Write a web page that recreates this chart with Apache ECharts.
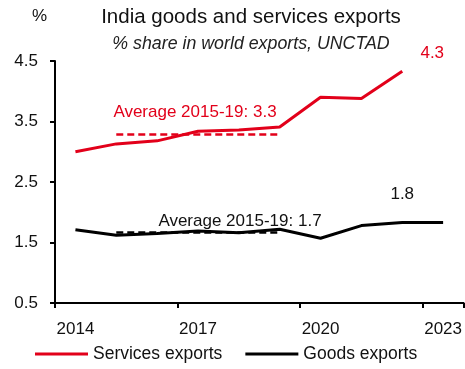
<!DOCTYPE html>
<html>
<head>
<meta charset="utf-8">
<script src="https://cdn.jsdelivr.net/npm/echarts@6/dist/echarts.min.js"></script>
<style>
  html, body { margin: 0; padding: 0; background: #fff; }
  #chart { width: 465px; height: 369px; }
</style>
</head>
<body>
<div id="chart"></div>
<script>
// India's share of world exports (%), UNCTAD
const years = ['2014', '2015', '2016', '2017', '2018', '2019', '2020', '2021', '2022', '2023'];
const servicesExports = [3.0, 3.13, 3.18, 3.34, 3.36, 3.41, 3.9, 3.88, 4.33, null];
const goodsExports = [1.71, 1.62, 1.65, 1.69, 1.66, 1.72, 1.57, 1.78, 1.83, 1.83];
const yTicks = [0.5, 1.5, 2.5, 3.5, 4.5];
const avgFrom = '2015';
const avgTo = '2019';
const labelYear = '2022';

const RED = '#E2001A';
const BLACK = '#000000';
const TEXT = '#111111';
const FONT = 'Liberation Sans, Arial, sans-serif';

function periodAverage(values) {
  const a = years.indexOf(avgFrom), b = years.indexOf(avgTo);
  const slice = values.slice(a, b + 1);
  return slice.reduce((s, v) => s + v, 0) / slice.length;
}

// Put a value label on the year the text refers to
function withLabel(values, year, label) {
  const idx = years.indexOf(year);
  return values.map((v, i) => i === idx ? { value: v, label: Object.assign({ show: true }, label) } : v);
}

const servicesAvg = periodAverage(servicesExports);
const goodsAvg = periodAverage(goodsExports);
const avgText = v => 'Average ' + avgFrom + '-' + avgTo.slice(2) + ': ' + v.toFixed(1);

const chart = echarts.init(document.getElementById('chart'));
chart.setOption({
  animation: false,
  textStyle: { fontFamily: FONT },
  title: [
    {
      text: 'India goods and services exports',
      subtext: '% share in world exports, UNCTAD',
      left: 246,
      textAlign: 'center',
      top: 2,
      itemGap: 7,
      textStyle: { fontFamily: FONT, fontSize: 20.5, fontWeight: 'normal', color: TEXT },
      subtextStyle: { fontFamily: FONT, fontSize: 17.8, fontStyle: 'italic', color: '#222' }
    },
    {
      text: '%',
      left: 27,
      top: 3,
      textStyle: { fontFamily: FONT, fontSize: 17, fontWeight: 'normal', color: TEXT }
    }
  ],
  grid: { left: 55, right: 1, top: 61, bottom: 66, containLabel: false },
  legend: {
    bottom: 1,
    left: 30,
    itemWidth: 53,
    itemHeight: 3,
    itemGap: 23,
    icon: 'rect',
    textStyle: { fontFamily: FONT, fontSize: 17.5, color: TEXT },
    data: ['Services exports', 'Goods exports']
  },
  xAxis: {
    type: 'category',
    data: years,
    boundaryGap: true,
    axisLine: { lineStyle: { color: '#000', width: 2 } },
    axisTick: { show: true, interval: 2, length: 5, lineStyle: { color: '#000', width: 2 } },
    axisLabel: { interval: 2, fontSize: 17, color: TEXT, margin: 18, fontFamily: FONT }
  },
  yAxis: {
    type: 'value',
    min: yTicks[0],
    max: yTicks[yTicks.length - 1],
    interval: 1,
    splitLine: { show: false },
    axisLine: { show: true, lineStyle: { color: '#000', width: 2 } },
    axisTick: { show: true, length: 5, lineStyle: { color: '#000', width: 2 } },
    axisLabel: { fontSize: 17, color: TEXT, margin: 17, fontFamily: FONT, formatter: v => v.toFixed(1) }
  },
  series: [
    {
      name: 'Services exports',
      type: 'line',
      data: withLabel(servicesExports, labelYear, {
        position: 'top', offset: [30, -4], fontSize: 17, color: RED,
        formatter: p => p.value.toFixed(1)
      }),
      symbol: 'circle',
      symbolSize: 0,
      showSymbol: true,
      color: RED,
      lineStyle: { color: RED, width: 3 },
      markLine: {
        symbol: 'none',
        silent: true,
        lineStyle: { color: RED, width: 2.5, type: [7, 4] },
        label: {
          show: true, position: 'middle', distance: 14, color: RED, fontSize: 17,
          padding: [0, 6, 0, 0],
          formatter: () => avgText(servicesAvg)
        },
        data: [[{ coord: [avgFrom, servicesAvg] }, { coord: [avgTo, servicesAvg] }]]
      }
    },
    {
      name: 'Goods exports',
      type: 'line',
      data: withLabel(goodsExports, labelYear, {
        position: 'top', distance: 20, fontSize: 17, color: TEXT,
        formatter: p => p.value.toFixed(1)
      }),
      symbol: 'circle',
      symbolSize: 0,
      showSymbol: true,
      color: BLACK,
      lineStyle: { color: BLACK, width: 3 },
      markLine: {
        symbol: 'none',
        silent: true,
        lineStyle: { color: BLACK, width: 2.5, type: [7, 4] },
        label: {
          show: true, position: 'middle', distance: 3, color: TEXT, fontSize: 17,
          padding: [0, 0, 0, 84],
          formatter: () => avgText(goodsAvg)
        },
        data: [[{ coord: [avgFrom, goodsAvg] }, { coord: [avgTo, goodsAvg] }]]
      }
    }
  ]
});
</script>
</body>
</html>
